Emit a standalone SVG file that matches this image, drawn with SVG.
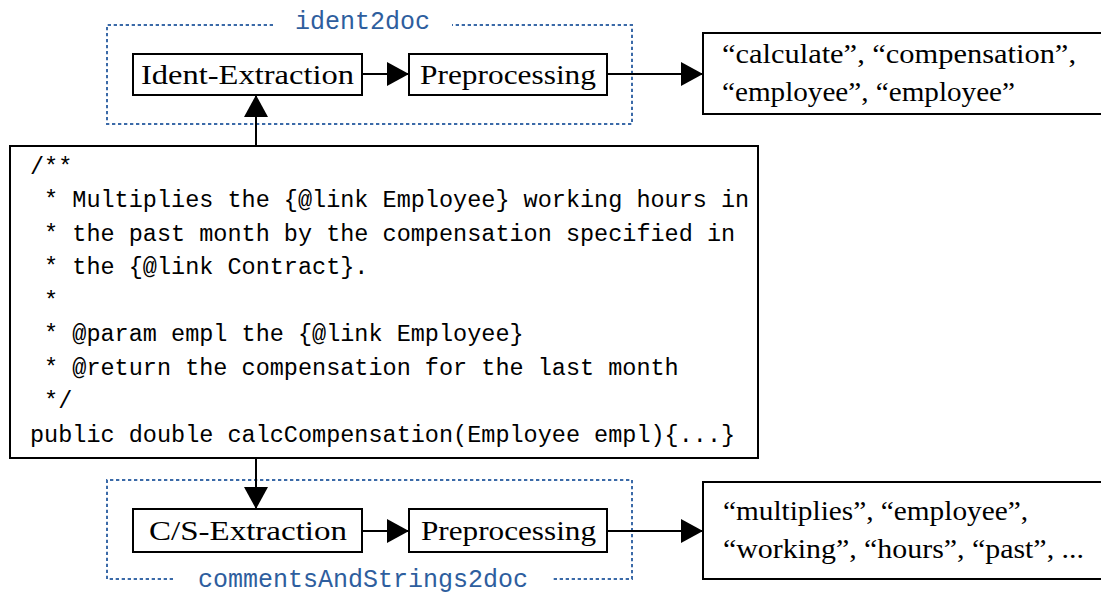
<svg xmlns="http://www.w3.org/2000/svg" width="1101" height="594" viewBox="0 0 1101 594">
  <defs>
    <style>
      .box { fill: #ffffff; stroke: #000000; stroke-width: 2; }
      .group { fill: none; stroke: #3b6aa8; stroke-width: 2; stroke-dasharray: 3.3 2.7; }
      .edge { fill: none; stroke: #000000; stroke-width: 2; }
      .lbl { font-family: "Liberation Serif", "Times New Roman", serif; font-size: 28px; fill: #000000; }
      .out { font-family: "Liberation Serif", "Times New Roman", serif; font-size: 28px; fill: #000000; }
      .code { font-family: "Liberation Mono", "Courier New", monospace; font-size: 23.5px; fill: #000000; white-space: pre; }
      .title { font-family: "Liberation Mono", "Courier New", monospace; font-size: 25px; fill: #2e5e9e; }
    </style>
    <marker id="arrow" markerUnits="userSpaceOnUse" markerWidth="22" markerHeight="24" refX="22" refY="12" orient="auto">
      <path d="M0,0 L22,12 L0,24 Z" fill="#000000"/>
    </marker>
  </defs>

  <rect width="1101" height="594" fill="#ffffff"/>

  <!-- ident2doc pipeline frame -->
  <g id="ident2doc">
    <path class="group" d="M273,25 H107 V124 H632 V25 H452"/>
    <text class="title" x="362.5" y="29" text-anchor="middle">ident2doc</text>
  </g>

  <!-- commentsAndStrings2doc pipeline frame -->
  <g id="commentsAndStrings2doc">
    <path class="group" d="M173,579 H107 V480 H632 V579 H551"/>
    <text class="title" x="363" y="587" text-anchor="middle">commentsAndStrings2doc</text>
  </g>

  <!-- connectors -->
  <g id="connectors">
    <line class="edge" x1="256" y1="146" x2="256" y2="95" marker-end="url(#arrow)"/>
    <line class="edge" x1="362" y1="74" x2="409" y2="74" marker-end="url(#arrow)"/>
    <line class="edge" x1="607" y1="74" x2="703" y2="74" marker-end="url(#arrow)"/>
    <line class="edge" x1="256" y1="458" x2="256" y2="509" marker-end="url(#arrow)"/>
    <line class="edge" x1="362" y1="531" x2="409" y2="531" marker-end="url(#arrow)"/>
    <line class="edge" x1="607" y1="531" x2="703" y2="531" marker-end="url(#arrow)"/>
  </g>

  <g id="ident-extraction">
    <rect class="box" x="133" y="54" width="229" height="41"/>
    <text class="lbl" x="141" y="84" textLength="213" lengthAdjust="spacingAndGlyphs">Ident-Extraction</text>
  </g>

  <g id="preprocessing-ident">
    <rect class="box" x="409" y="54" width="198" height="41"/>
    <text class="lbl" x="420" y="84" textLength="176" lengthAdjust="spacingAndGlyphs">Preprocessing</text>
  </g>

  <g id="ident-output">
    <rect class="box" x="703" y="33" width="402" height="81"/>
    <text class="out" x="722" y="63" textLength="354" lengthAdjust="spacingAndGlyphs">“calculate”, “compensation”,</text>
    <text class="out" x="722" y="101" textLength="293" lengthAdjust="spacingAndGlyphs">“employee”, “employee”</text>
  </g>

  <g id="source-code">
    <rect class="box" x="10" y="146" width="748" height="312"/>
    <text class="code" x="30" y="173.5">/**</text>
    <text class="code" x="30" y="207"> * Multiplies the {@link Employee} working hours in</text>
    <text class="code" x="30" y="240.5"> * the past month by the compensation specified in</text>
    <text class="code" x="30" y="274"> * the {@link Contract}.</text>
    <text class="code" x="30" y="307.5"> *</text>
    <text class="code" x="30" y="341"> * @param empl the {@link Employee}</text>
    <text class="code" x="30" y="374.5"> * @return the compensation for the last month</text>
    <text class="code" x="30" y="408"> */</text>
    <text class="code" x="30" y="441.5">public double calcCompensation(Employee empl){...}</text>
  </g>

  <g id="cs-extraction">
    <rect class="box" x="133" y="509" width="229" height="43"/>
    <text class="lbl" x="149" y="540" textLength="198" lengthAdjust="spacingAndGlyphs">C/S-Extraction</text>
  </g>

  <g id="preprocessing-cs">
    <rect class="box" x="409" y="509" width="198" height="43"/>
    <text class="lbl" x="421" y="540" textLength="175" lengthAdjust="spacingAndGlyphs">Preprocessing</text>
  </g>

  <g id="cs-output">
    <rect class="box" x="703" y="482" width="402" height="97"/>
    <text class="out" x="723" y="519.5" textLength="305" lengthAdjust="spacingAndGlyphs">“multiplies”, “employee”,</text>
    <text class="out" x="723" y="558" textLength="361" lengthAdjust="spacingAndGlyphs">“working”, “hours”, “past”, ...</text>
  </g>
</svg>
